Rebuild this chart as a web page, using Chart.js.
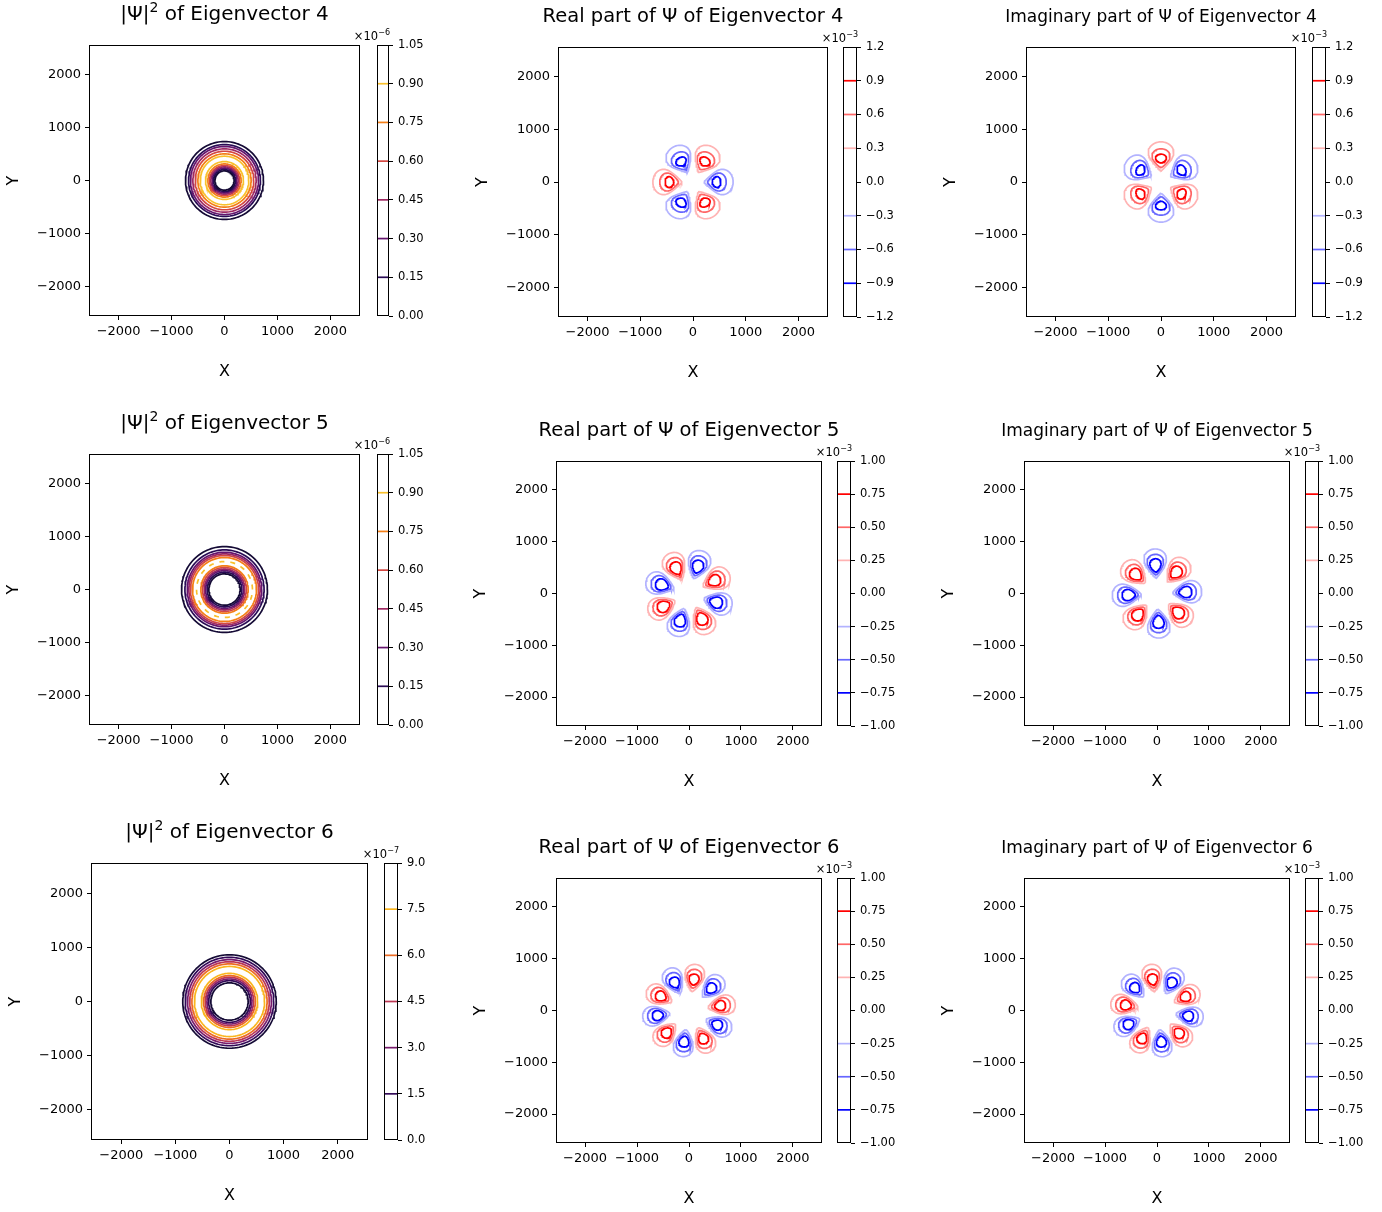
<!DOCTYPE html>
<html>
<head>
<meta charset="utf-8">
<script src="https://cdn.jsdelivr.net/npm/chart.js@4.4.1/dist/chart.umd.min.js"></script>
<style>
  body { margin: 0; background: #fff; }
  #fig { position: relative; width: 1382px; height: 1212px; overflow: hidden; }
  #fig canvas { position: absolute; }
</style>
</head>
<body>
<div id="fig"></div>
<script>
// ---- axes ----
const axisTicks = [-2000, -1000, 0, 1000, 2000];
const axisLimit = 2560;

// ---- |Psi|^2 contour levels (colorbar units) ----
const densityLevels = [0, 0.15, 0.30, 0.45, 0.60, 0.75, 0.90, 1.05];
const densityLabels = ['0.00', '0.15', '0.30', '0.45', '0.60', '0.75', '0.90', '1.05'];
const densityColors = ['#140a35', '#290b55', '#65156e', '#9f2a63', '#d44842', '#f47f17', '#f9c12c', '#fcffa4'];
const densityLevels6 = [0, 1.5, 3.0, 4.5, 6.0, 7.5, 9.0];
const densityLabels6 = ['0.0', '1.5', '3.0', '4.5', '6.0', '7.5', '9.0'];
const densityColors6 = ['#140a35', '#330a58', '#781c6d', '#bc3754', '#ec6b24', '#fab51e', '#fcffa4'];

// ring radii, index i = level i, outer flank and inner flank of the annulus
const ringsOuter4 = [736, 679, 642, 598, 553, 503, 459];
const ringsInner4 = [182, 208, 233, 258, 283, 314, 358];
const ringsOuter5 = [811, 748, 704, 673, 642, 604];
const ringsInner5 = [296, 327, 358, 384, 415, 447];
const ringBroken5 = 528;   // 0.90 level only touched in pieces
const ringsOuter6 = [864, 818, 775, 735, 695, 648];
const ringsInner6 = [345, 385, 416, 446, 478, 520];

// ---- Re / Im contour levels ----
const waveLevels4 = [-1.2, -0.9, -0.6, -0.3, 0, 0.3, 0.6, 0.9, 1.2];
const waveLabels4 = ['\u22121.2', '\u22120.9', '\u22120.6', '\u22120.3', '0.0', '0.3', '0.6', '0.9', '1.2'];
const waveLevels56 = [-1.0, -0.75, -0.5, -0.25, 0, 0.25, 0.5, 0.75, 1.0];
const waveLabels56 = ['\u22121.00', '\u22120.75', '\u22120.50', '\u22120.25', '0.00', '0.25', '0.50', '0.75', '1.00'];
const waveColors = ['#00007f', '#0000ff', '#6666ff', '#b3b3ff', '#ffffff', '#ffb3b3', '#ff6666', '#ff0000', '#7f0000'];

// lobes: level, radial extent and angular half-width (deg)
const lobeLevels4 = [0.3, 0.6, 0.9];
const lobeInner4 = [214, 277, 362];
const lobeOuter4 = [761, 630, 528];
const lobeSpread4 = [25, 20, 13];
const lobeLevels5 = [0.25, 0.5, 0.75];
const lobeInner5 = [307, 365, 418];
const lobeOuter5 = [861, 758, 672];
const lobeSpread5 = [19, 15, 11];
const lobeLevels6 = [0.25, 0.5, 0.75];
const lobeInner6 = [375, 440, 498];
const lobeOuter6 = [900, 804, 712];
const lobeSpread6 = [15.5, 12.5, 9];

// angular order and direction of the first positive lobe (deg)
const lobeOrder = [3, 4, 5];
const realPhase = [60, 27, 9];
const imagPhase = [90, 48, 26];

// ---- figure layout (page px): plot box and colorbar box ----
const panels = [
  { plot: [89, 45, 360, 316], bar: [377, 45, 389, 316] },
  { plot: [558, 47, 828, 317], bar: [843, 47, 857, 317] },
  { plot: [1026, 47, 1296, 317], bar: [1312, 47, 1326, 317] },
  { plot: [89, 454, 360, 725], bar: [377, 454, 389, 725] },
  { plot: [556, 461, 822, 726], bar: [837, 461, 851, 726] },
  { plot: [1024, 461, 1290, 726], bar: [1305, 461, 1319, 726] },
  { plot: [91, 863, 368, 1140], bar: [384, 863, 398, 1140] },
  { plot: [556, 878, 822, 1143], bar: [837, 878, 851, 1143] },
  { plot: [1024, 878, 1290, 1143], bar: [1305, 878, 1319, 1143] }
];

const FONT = '"DejaVu Sans", "Liberation Sans", sans-serif';
Chart.defaults.font.family = FONT;
Chart.defaults.color = '#000';

const fig = document.getElementById('fig');

function addCanvas(x, y, w, h) {
  const c = document.createElement('canvas');
  c.width = w; c.height = h;
  c.style.left = x + 'px'; c.style.top = y + 'px';
  c.style.width = w + 'px'; c.style.height = h + 'px';
  fig.appendChild(c);
  return c;
}

const fmtTick = v => (v < 0 ? '\u2212' + Math.abs(v) : String(v));

// text made of plain and raised pieces: [[text, raised], ...]
function drawPieces(ctx, pieces, size, x, y, align) {
  ctx.save();
  ctx.fillStyle = '#000';
  ctx.textBaseline = 'alphabetic';
  ctx.textAlign = 'left';
  const fonts = pieces.map(p => (p[1] ? size * 0.7 : size) + 'px ' + FONT);
  let total = 0;
  const widths = pieces.map((p, i) => {
    ctx.font = fonts[i];
    const w = ctx.measureText(p[0]).width;
    total += w;
    return w;
  });
  let cx = align === 'center' ? x - total / 2 : align === 'right' ? x - total : x;
  pieces.forEach((p, i) => {
    ctx.font = fonts[i];
    ctx.fillText(p[0], cx, p[1] ? y - size * 0.42 : y);
    cx += widths[i];
  });
  ctx.restore();
}

const framePlugin = {
  id: 'frame',
  afterDatasetsDraw(chart) {
    const { ctx, chartArea: a } = chart;
    ctx.save();
    ctx.strokeStyle = '#000';
    ctx.lineWidth = 1;
    ctx.strokeRect(Math.round(a.left) + 0.5, Math.round(a.top) + 0.5,
      Math.round(a.right - a.left) - 1, Math.round(a.bottom - a.top) - 1);
    ctx.restore();
  }
};

const textPlugin = {
  id: 'panelText',
  afterDraw(chart, args, opts) {
    const { ctx, chartArea: a } = chart;
    if (opts.title) drawPieces(ctx, opts.title, opts.size, (a.left + a.right) / 2, a.top - 25, 'center');
    if (opts.offset) drawPieces(ctx, opts.offset, 11.5, a.right + 1, a.top - 5, 'right');
  }
};

function lineSet(points, color, extra) {
  return Object.assign({
    data: points, showLine: true, borderColor: color, borderWidth: 1.7,
    pointRadius: 0, pointHoverRadius: 0, fill: false, tension: 0
  }, extra || {});
}

function ringPath(radius) {
  const pts = [];
  for (let d = 0; d <= 360; d += 3) {
    const a = d * Math.PI / 180;
    pts.push({ x: radius * Math.cos(a), y: radius * Math.sin(a) });
  }
  return pts;
}

// egg-shaped outline, the narrower end toward the centre
function lobePath(centerDeg, rIn, rOut, spreadDeg) {
  const n = 72, raw = [];
  let peak = 0;
  for (let i = 0; i <= n; i++) {
    const t = (i / n) * 2 * Math.PI;
    const u = (1 - Math.cos(t)) / 2;
    const s = Math.sin(t) * Math.pow(u, 0.12);
    peak = Math.max(peak, Math.abs(s));
    raw.push([rIn + (rOut - rIn) * u, s]);
  }
  return raw.map(([r, s]) => {
    const a = (centerDeg + spreadDeg * s / peak) * Math.PI / 180;
    return { x: r * Math.cos(a), y: r * Math.sin(a) };
  });
}

function densitySets(outer, inner, colors, broken) {
  const sets = [];
  outer.forEach((r, i) => sets.push(lineSet(ringPath(r), colors[i])));
  inner.forEach((r, i) => sets.push(lineSet(ringPath(r), colors[i])));
  if (broken) sets.push(lineSet(ringPath(broken.radius), colors[broken.level], { borderDash: [5, 6] }));
  return sets;
}

function lobeSets(order, phase, levels, inner, outer, spread, waveLevels) {
  const sets = [];
  levels.forEach((lv, j) => {
    for (let k = 0; k < 2 * order; k++) {
      const sign = k % 2 === 0 ? 1 : -1;
      const color = waveColors[waveLevels.indexOf(sign * lv)];
      sets.push(lineSet(lobePath(phase + k * 180 / order, inner[j], outer[j], spread[j]), color));
    }
  });
  return sets;
}

function contourPanel(box, title, titleSize, datasets) {
  const [L, T, R, B] = box;
  const padL = 88, padT = 48, padR = 70, padB = 70;
  const canvas = addCanvas(L - padL, T - padT, (R - L) + padL + padR, (B - T) + padT + padB);
  const tickFont = { family: FONT, size: 13 };
  const grid = { drawOnChartArea: false, drawTicks: true, tickLength: 4, tickWidth: 1, tickColor: '#000' };
  new Chart(canvas, {
    type: 'scatter',
    data: { datasets },
    options: {
      responsive: false,
      animation: false,
      events: [],
      layout: { padding: { left: 0, top: padT, right: padR, bottom: 0 } },
      plugins: {
        legend: { display: false },
        tooltip: { enabled: false },
        panelText: { title, size: titleSize }
      },
      scales: {
        x: {
          type: 'linear', min: -axisLimit, max: axisLimit,
          afterBuildTicks: s => { s.ticks = axisTicks.map(v => ({ value: v })); },
          afterFit: s => { s.height = padB; },
          ticks: { callback: fmtTick, font: tickFont, color: '#000', maxRotation: 0, padding: 4 },
          grid, border: { display: false },
          title: { display: true, text: 'X', color: '#000', font: { family: FONT, size: 16 }, padding: { bottom: 5 } }
        },
        y: {
          type: 'linear', min: -axisLimit, max: axisLimit,
          afterBuildTicks: s => { s.ticks = axisTicks.map(v => ({ value: v })); },
          afterFit: s => { s.width = padL; },
          ticks: { callback: fmtTick, font: tickFont, color: '#000', padding: 4 },
          grid, border: { display: false },
          title: { display: true, text: 'Y', color: '#000', font: { family: FONT, size: 16 }, padding: { top: 3 } }
        }
      }
    },
    plugins: [framePlugin, textPlugin]
  });
}

function colorbarPanel(box, levels, labels, colors, exponent) {
  const [L, T, R, B] = box;
  const padL = 40, padT = 24, padB = 16, padR = 50;
  const canvas = addCanvas(L - padL, T - padT, (R - L) + padL + padR, (B - T) + padT + padB);
  new Chart(canvas, {
    type: 'scatter',
    data: {
      datasets: levels.map((v, i) => lineSet([{ x: 0, y: v }, { x: 1, y: v }], colors[i]))
    },
    options: {
      responsive: false,
      animation: false,
      events: [],
      layout: { padding: { left: padL, top: padT, right: 0, bottom: padB } },
      plugins: {
        legend: { display: false },
        tooltip: { enabled: false },
        panelText: { offset: [['\u00d710', false], ['\u2212' + exponent, true]] }
      },
      scales: {
        x: { type: 'linear', min: 0, max: 1, display: false },
        y: {
          type: 'linear', position: 'right', min: levels[0], max: levels[levels.length - 1],
          afterBuildTicks: s => { s.ticks = levels.map(v => ({ value: v })); },
          afterFit: s => { s.width = padR; },
          ticks: { callback: (v, i) => labels[i], font: { family: FONT, size: 11.5 }, color: '#000', padding: 5 },
          grid: { drawOnChartArea: false, drawTicks: true, tickLength: 4, tickWidth: 1, tickColor: '#000' },
          border: { display: false }
        }
      }
    },
    plugins: [framePlugin, textPlugin]
  });
}

const densityTitle = n => [['|\u03a8|', false], ['2', true], [' of Eigenvector ' + n, false]];
const realTitle = n => [['Real part of \u03a8 of Eigenvector ' + n, false]];
const imagTitle = n => [['Imaginary part of \u03a8 of Eigenvector ' + n, false]];

// row: eigenvector 4
contourPanel(panels[0].plot, densityTitle(4), 20, densitySets(ringsOuter4, ringsInner4, densityColors));
colorbarPanel(panels[0].bar, densityLevels, densityLabels, densityColors, '6');
contourPanel(panels[1].plot, realTitle(4), 19.5,
  lobeSets(lobeOrder[0], realPhase[0], lobeLevels4, lobeInner4, lobeOuter4, lobeSpread4, waveLevels4));
colorbarPanel(panels[1].bar, waveLevels4, waveLabels4, waveColors, '3');
contourPanel(panels[2].plot, imagTitle(4), 17,
  lobeSets(lobeOrder[0], imagPhase[0], lobeLevels4, lobeInner4, lobeOuter4, lobeSpread4, waveLevels4));
colorbarPanel(panels[2].bar, waveLevels4, waveLabels4, waveColors, '3');

// row: eigenvector 5
contourPanel(panels[3].plot, densityTitle(5), 20,
  densitySets(ringsOuter5, ringsInner5, densityColors, { radius: ringBroken5, level: 6 }));
colorbarPanel(panels[3].bar, densityLevels, densityLabels, densityColors, '6');
contourPanel(panels[4].plot, realTitle(5), 19.5,
  lobeSets(lobeOrder[1], realPhase[1], lobeLevels5, lobeInner5, lobeOuter5, lobeSpread5, waveLevels56));
colorbarPanel(panels[4].bar, waveLevels56, waveLabels56, waveColors, '3');
contourPanel(panels[5].plot, imagTitle(5), 17,
  lobeSets(lobeOrder[1], imagPhase[1], lobeLevels5, lobeInner5, lobeOuter5, lobeSpread5, waveLevels56));
colorbarPanel(panels[5].bar, waveLevels56, waveLabels56, waveColors, '3');

// row: eigenvector 6
contourPanel(panels[6].plot, densityTitle(6), 20, densitySets(ringsOuter6, ringsInner6, densityColors6));
colorbarPanel(panels[6].bar, densityLevels6, densityLabels6, densityColors6, '7');
contourPanel(panels[7].plot, realTitle(6), 19.5,
  lobeSets(lobeOrder[2], realPhase[2], lobeLevels6, lobeInner6, lobeOuter6, lobeSpread6, waveLevels56));
colorbarPanel(panels[7].bar, waveLevels56, waveLabels56, waveColors, '3');
contourPanel(panels[8].plot, imagTitle(6), 17,
  lobeSets(lobeOrder[2], imagPhase[2], lobeLevels6, lobeInner6, lobeOuter6, lobeSpread6, waveLevels56));
colorbarPanel(panels[8].bar, waveLevels56, waveLabels56, waveColors, '3');
</script>
</body>
</html>
